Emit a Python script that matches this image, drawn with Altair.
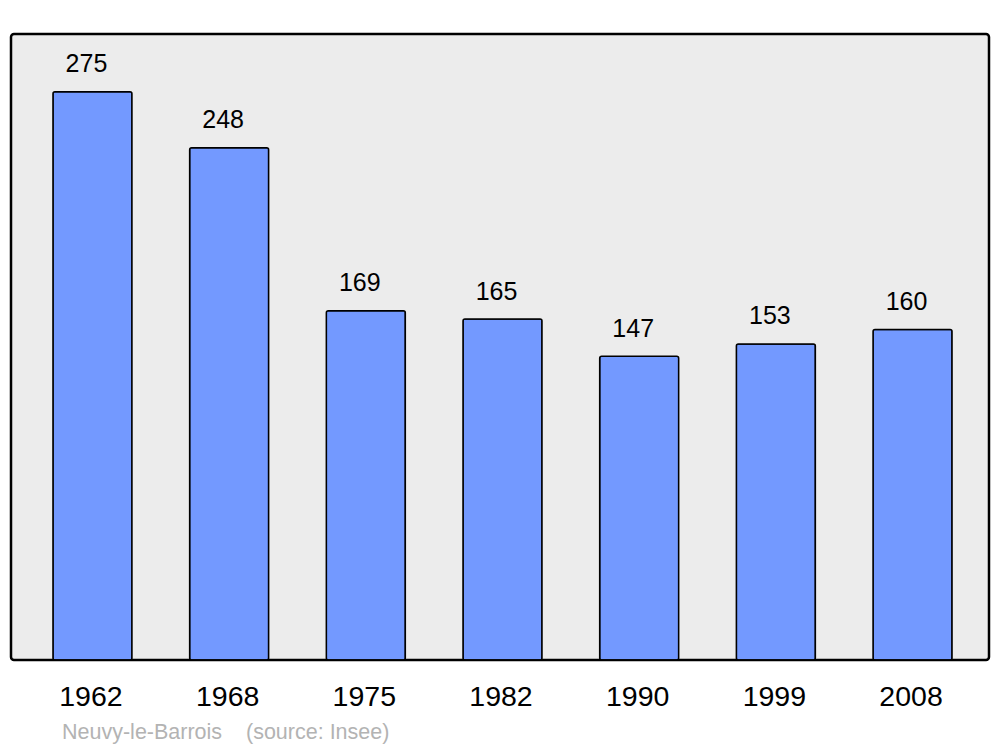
import altair as alt
import pandas as pd

years = ["1962", "1968", "1975", "1982", "1990", "1999", "2008"]
population = [275, 248, 169, 165, 147, 153, 160]
commune = "Neuvy-le-Barrois"
source = "(source: Insee)"

df = pd.DataFrame({"year": years, "pop": population})

FONT = "Liberation Sans"

x = alt.X("year:N", sort=years,
          scale=alt.Scale(paddingInner=0.422, paddingOuter=0.307, range=[0, 983]),
          axis=alt.Axis(title=None, ticks=False, domain=False, labelAngle=0,
                        labelFontSize=28.5, labelFont=FONT, labelColor="black",
                        labelPadding=36, labelBaseline="middle", labelOffset=-1.5))
y = alt.Y("pop:Q", scale=alt.Scale(domain=[0, 303], nice=False, zero=True), axis=None)

bars = alt.Chart(df).mark_bar(
    color="#7399ff", stroke="black", strokeWidth=1.5, cornerRadius=2
).encode(x=x, y=y)

labels = alt.Chart(df).mark_text(
    dy=-27.5, dx=-6, fontSize=25, font=FONT, color="black", baseline="middle"
).encode(x=x, y=y, text="pop:Q")

chart = alt.layer(bars, labels).properties(
    width=978, height=626,
    padding={"left": 3, "top": 26, "right": 3, "bottom": 85},
    autosize=alt.AutoSizeParams(type="none"),
    title=alt.Title(
        text=commune + "\u00a0\u00a0\u00a0\u00a0" + source,
        orient="bottom", anchor="start", dx=51, offset=22,
        fontSize=21.5, font=FONT, color="#b3b3b3", fontWeight="normal",
        baseline="middle"),
).configure(
    background="white",
    view=alt.ViewConfig(fill="#ececec", stroke="black", strokeWidth=2.5, cornerRadius=3),
)

chart.save("out.html", embed_options={"renderer": "svg", "actions": False})
